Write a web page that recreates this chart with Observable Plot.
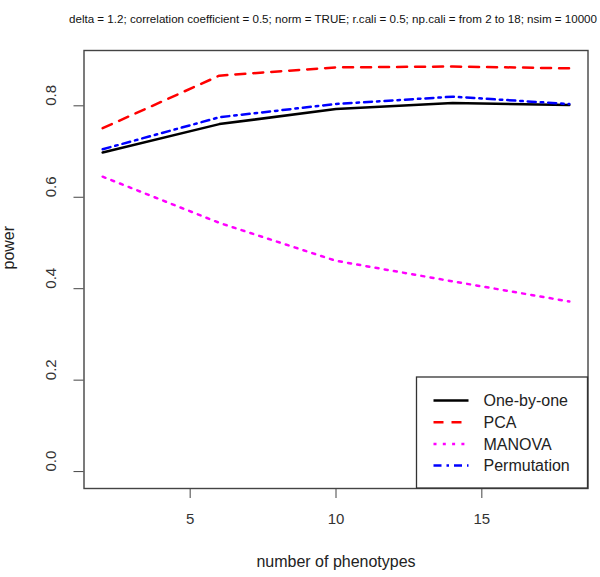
<!DOCTYPE html>
<html><head><meta charset="utf-8">
<script src="https://cdn.jsdelivr.net/npm/d3@7"></script>
<script src="https://cdn.jsdelivr.net/npm/@observablehq/plot@0.6"></script>
<style>body{margin:0;background:#fff}</style>
</head><body><div id="chart"></div>
<script>
const xValues = [2, 6, 10, 14, 18];
const oneByOne = [0.698, 0.760, 0.793, 0.806, 0.802];
const pca = [0.751, 0.866, 0.884, 0.886, 0.882];
const manova = [0.645, 0.544, 0.461, 0.416, 0.372];
const permutation = [0.705, 0.775, 0.804, 0.820, 0.804];
const seriesNames = ["One-by-one", "PCA", "MANOVA", "Permutation"];
const seriesColors = ["#000000", "#ff0000", "#ff00ff", "#0000ff"];
const seriesDash = ["none", "10,8", "3,6.3", "8,5,2.5,5"];
const xTicks = [5, 10, 15];
const yTicks = [0, 0.2, 0.4, 0.6, 0.8];
const yTickLabels = ["0.0", "0.2", "0.4", "0.6", "0.8"];
const titleText = "delta = 1.2; correlation coefficient = 0.5; norm = TRUE; r.cali = 0.5; np.cali = from 2 to 18; nsim = 10000";
const xLabel = "number of phenotypes";
const yLabel = "power";

const seriesValues = [oneByOne, pca, manova, permutation];
const rows = seriesValues.flatMap((vals, s) => vals.map((v, i) => ({series: seriesNames[s], x: xValues[i], y: v})));

const W = 600, H = 577, mL = 83.5, mR = 12.5, mT = 50, mB = 89;
const font = "'Liberation Sans', Arial, Helvetica, sans-serif";

const marks = [
  ...seriesNames.map((name, s) => Plot.line(rows.filter(r => r.series === name), {
    x: "x", y: "y", stroke: seriesColors[s], strokeWidth: 2.5,
    strokeDasharray: seriesDash[s] === "none" ? undefined : seriesDash[s]
  })),
  Plot.frame({stroke: "#444", strokeWidth: 1.4}),
  Plot.text(yTicks, {y: d => d, frameAnchor: "left", dx: -33, rotate: -90, text: (d, i) => yTickLabels[i], fontSize: 15, fill: "#333"}),
  Plot.text(xTicks, {x: d => d, frameAnchor: "bottom", dy: 35, text: d => String(d), fontSize: 15, fill: "#333"}),
  Plot.text([xLabel], {frameAnchor: "bottom", dy: 78, text: d => d, fontSize: 16, fill: "#222"}),
  Plot.text([yLabel], {frameAnchor: "left", dx: -75.5, rotate: -90, text: d => d, fontSize: 16, fill: "#222"}),
  Plot.text([titleText], {frameAnchor: "top", dy: -36, dx: -3, text: d => d, fontSize: 11.6, fill: "#111"})
];

const chart = Plot.plot({
  width: W, height: H,
  marginLeft: mL, marginRight: mR, marginTop: mT, marginBottom: mB,
  style: {fontFamily: font, background: "white", color: "#444"},
  x: {domain: [1.36, 18.64], ticks: xTicks, tickSize: 10, tickFormat: () => "", label: null},
  y: {domain: [-0.037, 0.921], ticks: yTicks, tickSize: 10, tickFormat: () => "", label: null},
  marks
});
document.getElementById("chart").appendChild(chart);

// legend (bottom-right, inside the frame)
const svg = d3.select(chart);
const g = svg.append("g").attr("font-family", font).attr("text-anchor", "start");
const fr = W - mR, fb = H - mB;
const lw = 171, lh = 111;
g.append("rect").attr("x", fr - lw).attr("y", fb - lh).attr("width", lw).attr("height", lh)
  .attr("fill", "white").attr("stroke", "#333").attr("stroke-width", 1.3);
seriesNames.forEach((name, s) => {
  const cy = fb - lh + 23.5 + s * 21.7;
  const ln = g.append("line").attr("x1", fr - lw + 17).attr("x2", fr - lw + 52)
    .attr("y1", cy).attr("y2", cy).attr("stroke", seriesColors[s]).attr("stroke-width", 2.5);
  if (seriesDash[s] !== "none") ln.attr("stroke-dasharray", seriesDash[s]);
  g.append("text").attr("x", fr - lw + 67).attr("y", cy).attr("dy", "0.35em")
    .attr("text-anchor", "start").attr("font-size", 16).attr("fill", "#222").text(name);
});
</script>
</body></html>
